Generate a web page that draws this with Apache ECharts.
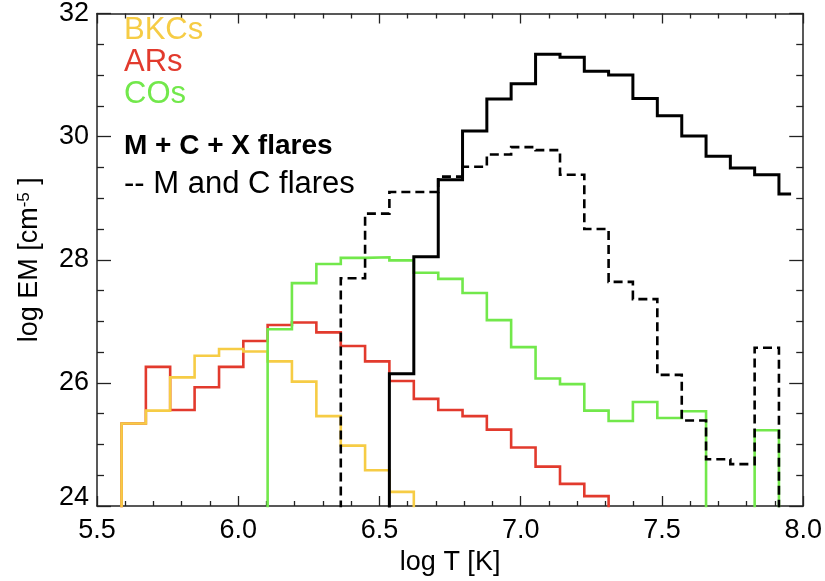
<!DOCTYPE html>
<html>
<head>
<meta charset="utf-8">
<script src="https://cdn.jsdelivr.net/npm/echarts@6/dist/echarts.min.js"></script>
<style>
html,body{margin:0;padding:0;background:#fff;}
#chart{width:825px;height:581px;}
</style>
</head>
<body>
<div id="chart"></div>
<script>
// Bin centres of log T (histogram drawn IDL psym=10 style)
const logT = [5.630, 5.716, 5.802, 5.889, 5.975, 6.061, 6.147, 6.233, 6.320, 6.406,
              6.492, 6.578, 6.665, 6.751, 6.837, 6.923, 7.009, 7.096, 7.182, 7.268,
              7.354, 7.440, 7.527, 7.613, 7.699, 7.785, 7.871, 7.957];
// log EM values per bin (null = empty bin)
const bkcs = [25.34, 25.55, 26.09, 26.44, 26.55, 26.51, 26.35, 26.02, 25.46, 24.98,
              24.58, 24.23, null, null, null, null, null, null, null, null,
              null, null, null, null, null, null, null, null];
const ars  = [25.34, 26.26, 25.56, 25.93, 26.26, 26.68, 26.94, 26.98, 26.82, 26.60,
              26.35, 26.03, 25.74, 25.56, 25.46, 25.24, 24.95, 24.64, 24.36, 24.16,
              null, null, null, null, null, null, null, null];
const cos  = [null, null, null, null, null, null, 26.87, 27.62, 27.93, 28.03,
              28.04, 27.99, 27.79, 27.69, 27.46, 27.02, 26.58, 26.07, 25.98, 25.55,
              25.38, 25.69, 25.43, 25.54, null, null, 25.23, null];
const mcx  = [null, null, null, null, null, null, null, null, null, null,
              null, 26.15, 28.05, 29.30, 30.09, 30.61, 30.86, 31.34, 31.29, 31.06,
              31.00, 30.62, 30.34, 30.01, 29.68, 29.49, 29.38, 29.07];
const mc   = [null, null, null, null, null, null, null, null, null, 27.70,
              28.75, 29.10, 29.10, 29.35, 29.51, 29.71, 29.83, 29.78, 29.38, 28.50,
              27.64, 27.36, 26.13, 25.39, 24.76, 24.68, 26.57, null];
const xTicks = {min: 5.5, max: 8.0, interval: 0.5};
const yTicks = {min: 24, max: 32, interval: 2};

const LOW = 20; // below axis minimum, clipped by the grid
function steps(vals) {
  const w = logT[1] - logT[0];
  const edges = logT.map((c, i) => i === 0 ? c - w / 2 : (logT[i - 1] + c) / 2);
  const pts = [[edges[0], LOW]];
  vals.forEach((v, i) => {
    const y = (v == null) ? LOW : v;
    const right = i < logT.length - 1 ? edges[i + 1] : logT[i];
    pts.push([edges[i], y], [right, y]);
  });
  return pts;
}

const FONT = 'Liberation Sans';
const YELLOW = '#F6CC45', RED = '#E23A2D', GREEN = '#72E84B';
const axisCol = '#222';

function xAx(pos, labels) {
  return {
    type: 'value', position: pos, min: xTicks.min, max: xTicks.max, interval: xTicks.interval,
    axisLine: {show: true, onZero: false, lineStyle: {color: axisCol, width: 1.5}},
    axisTick: {show: true, inside: true, length: 10, lineStyle: {color: axisCol, width: 1.3}},
    minorTick: {show: true, splitNumber: 5, length: 5, lineStyle: {color: axisCol, width: 1.3}},
    splitLine: {show: false}, minorSplitLine: {show: false},
    axisLabel: {show: labels, margin: 11, fontFamily: FONT, fontSize: 27, color: '#000',
                formatter: v => v.toFixed(1)},
    name: labels ? 'log T [K]' : '', nameLocation: 'middle', nameGap: 43,
    nameTextStyle: {fontFamily: FONT, fontSize: 27, color: '#000'}
  };
}
function yAx(pos, labels) {
  return {
    type: 'value', position: pos, min: yTicks.min, max: yTicks.max, interval: yTicks.interval,
    axisLine: {show: true, onZero: false, lineStyle: {color: axisCol, width: 1.5}},
    axisTick: {show: true, inside: true, length: 14, lineStyle: {color: axisCol, width: 1.3}},
    minorTick: {show: true, splitNumber: 4, length: 7, lineStyle: {color: axisCol, width: 1.3}},
    splitLine: {show: false}, minorSplitLine: {show: false},
    axisLabel: {show: labels, margin: 8, fontFamily: FONT, fontSize: 27, lineHeight: 16,
                color: '#000', verticalAlignMinLabel: 'bottom'},
    name: labels ? 'log EM [cm{sup|-5} ]' : '', nameLocation: 'middle', nameGap: 54,
    nameRotate: 90,
    nameTextStyle: {fontFamily: FONT, fontSize: 27, color: '#000',
      rich: {sup: {fontFamily: FONT, fontSize: 17, color: '#000', verticalAlign: 'top'}}}
  };
}

function lineSeries(name, vals, color, width, type, z) {
  return {
    name: name, type: 'line', data: steps(vals), showSymbol: false, symbol: 'none',
    clip: true, z: z, silent: true,
    lineStyle: {color: color, width: width, type: type, cap: 'butt', join: 'miter'},
    itemStyle: {color: color}
  };
}

const chart = echarts.init(document.getElementById('chart'), null, {renderer: 'canvas'});
chart.setOption({
  animation: false,
  backgroundColor: '#fff',
  grid: {left: 97, right: 21, top: 9, bottom: 72, containLabel: false},
  xAxis: [xAx('bottom', true), xAx('top', false)],
  yAxis: [yAx('left', true), yAx('right', false)],
  legend: [
    {orient: 'vertical', left: 119, top: 14, padding: 0, itemGap: 0, itemWidth: 0, itemHeight: 0,
     icon: 'none', selectedMode: false,
     textStyle: {fontFamily: FONT, fontSize: 31, lineHeight: 32, padding: 0},
     data: [{name: 'BKCs', textStyle: {color: YELLOW}},
            {name: 'ARs', textStyle: {color: RED}},
            {name: 'COs', textStyle: {color: GREEN}}]},
    {orient: 'vertical', left: 119, top: 127, padding: 0, itemGap: 0, itemWidth: 0, itemHeight: 0,
     icon: 'none', selectedMode: false,
     textStyle: {fontFamily: FONT, fontSize: 31, lineHeight: 38, padding: 0, color: '#000'},
     data: [{name: 'M + C + X flares', textStyle: {color: '#000', fontWeight: 'bold', fontSize: 28}},
            {name: '-- M and C flares', textStyle: {color: '#000'}}]}
  ],
  series: [
    lineSeries('ARs', ars, RED, 2.6, 'solid', 2),
    lineSeries('BKCs', bkcs, YELLOW, 2.6, 'solid', 3),
    lineSeries('COs', cos, GREEN, 2.6, 'solid', 4),
    lineSeries('-- M and C flares', mc, '#000', 2.6, [9, 5], 5),
    lineSeries('M + C + X flares', mcx, '#000', 3, 'solid', 6)
  ]
});
</script>
</body>
</html>
